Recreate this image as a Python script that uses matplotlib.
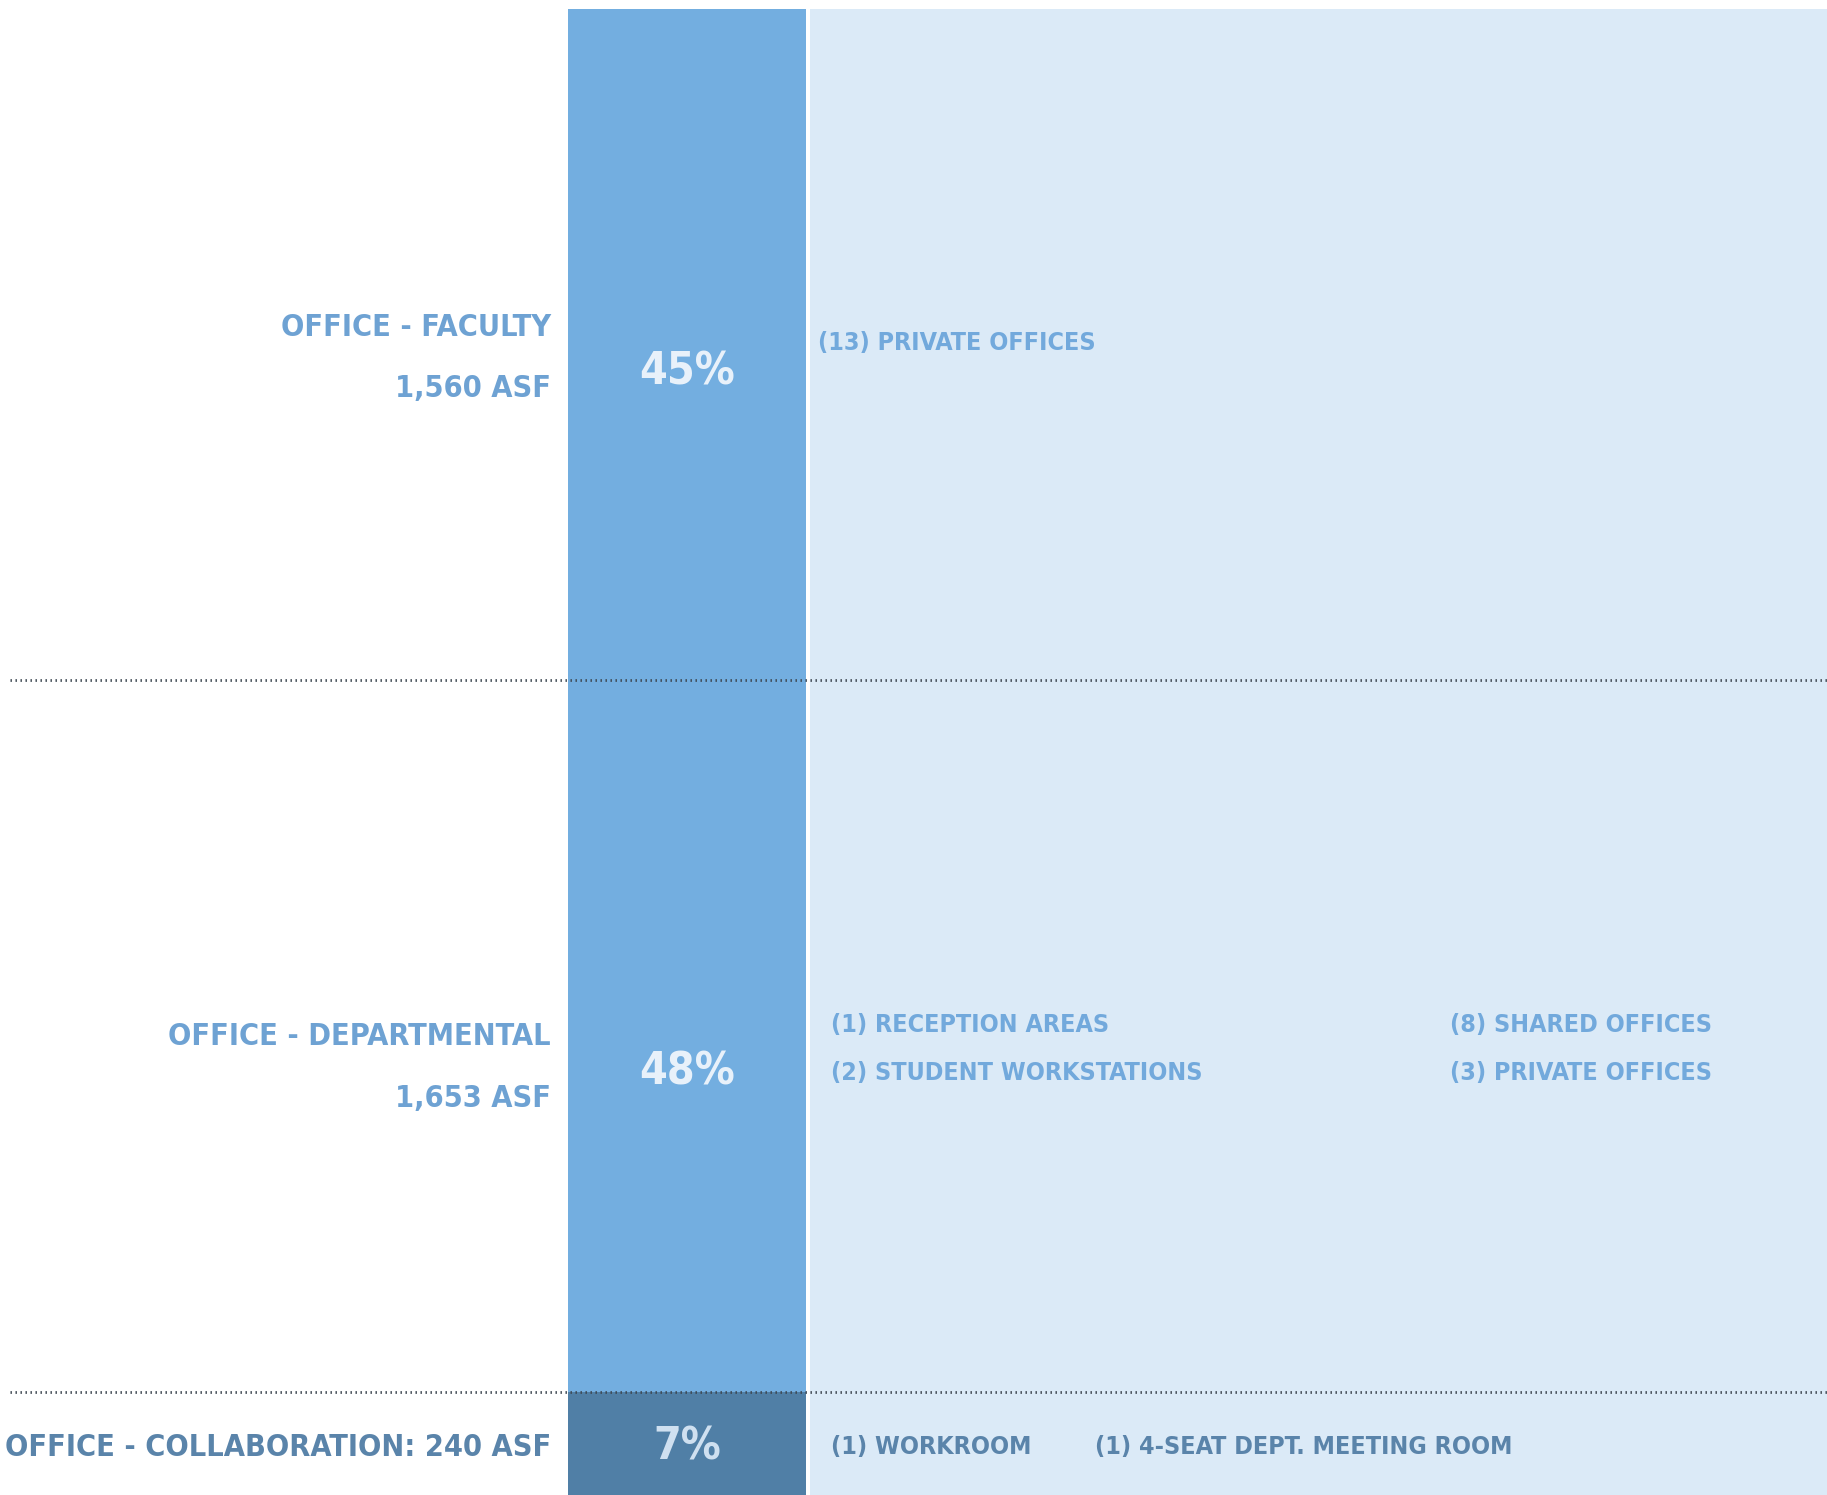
import matplotlib
matplotlib.use("Agg")
import matplotlib.pyplot as plt
from matplotlib.transforms import offset_copy

# ---- data ----
categories = ["OFFICE - FACULTY", "OFFICE - DEPARTMENTAL", "OFFICE - COLLABORATION"]
asf_values = [1560, 1653, 240]
asf_labels = ["1,560 ASF", "1,653 ASF", "240 ASF"]
room_lists = [
    [["(13) PRIVATE OFFICES"]],
    [["(1) RECEPTION AREAS", "(2) STUDENT WORKSTATIONS"],
     ["(8) SHARED OFFICES", "(3) PRIVATE OFFICES"]],
    [["(1) WORKROOM"], ["(1) 4-SEAT DEPT. MEETING ROOM"]],
]

total = sum(asf_values)
shares = [round(v / total * 100) for v in asf_values]
bottoms = [sum(asf_values[:i]) for i in range(len(asf_values))]

# ---- style ----
plt.rcParams["font.family"] = ["DejaVu Sans"]
plt.rcParams["font.stretch"] = "condensed"
C_BAR = "#73aee0"
C_DARK = "#507fa6"
C_PANEL = "#dbeaf7"
C_LABEL = "#6ea2d3"
C_ROOM = "#72a9dc"
C_BOTTOM_TXT = "#5a84aa"
C_PCT = "#e8f1fa"

W, H = 1827, 1495
fig = plt.figure(figsize=(W / 100, H / 100), dpi=100)
fig.patch.set_facecolor("white")
ax = fig.add_axes([0, 0, 1, (H - 9) / H])
ax.set_xlim(0, W)
ax.set_ylim(total, 0)
ax.axis("off")

bar_x, bar_w = 687, 238
panel_x0 = 810

ax.axvspan(panel_x0, W, color=C_PANEL, zorder=0, lw=0)
ax.bar([bar_x] * 3, asf_values, bottom=bottoms, width=bar_w,
       color=[C_BAR, C_BAR, C_DARK], align="center", zorder=1, lw=0)

for b in bottoms[1:]:
    ax.axhline(b, xmin=10 / W, xmax=1, color="#3c4650", lw=2.0,
               linestyle=(0, (0.5, 1.3)), zorder=3)

def put(x, seg, dy_px, s, **kw):
    y = bottoms[seg] + asf_values[seg] / 2
    tr = offset_copy(ax.transData, fig=fig, x=0, y=-dy_px, units="dots")
    ax.text(x, y, s, transform=tr, va="center", fontweight="bold",
            fontstretch="condensed", zorder=4, **kw)

lab_x = 551
pct_fs = 32
lab_fs = 22
room_fs = 18

# Faculty
put(lab_x, 0, -17, categories[0], ha="right", fontsize=lab_fs, color=C_LABEL)
put(lab_x, 0, 44, asf_labels[0], ha="right", fontsize=lab_fs, color=C_LABEL)
put(bar_x, 0, 27, f"{shares[0]}%", ha="center", fontsize=pct_fs, color=C_PCT)
put(818, 0, -2, room_lists[0][0][0], ha="left", fontsize=room_fs, color=C_ROOM)

# Departmental
put(lab_x, 1, 0, categories[1], ha="right", fontsize=lab_fs, color=C_LABEL)
put(lab_x, 1, 62, asf_labels[1], ha="right", fontsize=lab_fs, color=C_LABEL)
put(bar_x, 1, 36, f"{shares[1]}%", ha="center", fontsize=pct_fs, color=C_PCT)
for col, x in zip(room_lists[1], [831, 1450]):
    for j, s in enumerate(col):
        put(x, 1, -11 + 48 * j, s, ha="left", fontsize=room_fs, color=C_ROOM)

# Collaboration
put(lab_x, 2, 4, f"{categories[2]}: {asf_labels[2]}", ha="right",
    fontsize=lab_fs, color=C_BOTTOM_TXT)
put(bar_x, 2, 4, f"{shares[2]}%", ha="center", fontsize=pct_fs, color="#cfe0f0")
for col, x in zip(room_lists[2], [831, 1095]):
    put(x, 2, 4, col[0], ha="left", fontsize=room_fs, color=C_BOTTOM_TXT)

fig.savefig("out.png", dpi=100, facecolor="white")
